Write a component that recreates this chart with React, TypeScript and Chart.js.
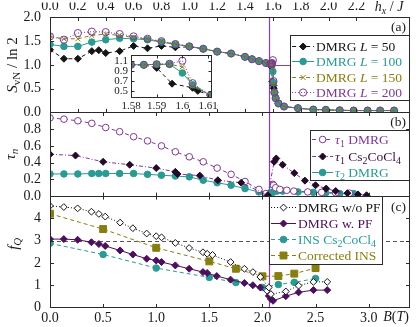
import React, { useEffect, useRef } from 'react';
import { Chart, registerables } from 'chart.js';

Chart.register(...registerables);

const FONT = '"Liberation Serif", "Times New Roman", Times, serif';
const INK = '#1a1a1a';
const FRAME = '#2a2a2a';

// Colours
const C_BLACK = '#151515';
const C_TEAL = '#2b9a93';
const C_OLIVE = '#877e12';
const C_PURPLE = '#7d3a91';
const C_DPURPLE = '#4c0f5e';
const C_DIAM = '#220a28';
const C_CRIT = '#8a3fa6';
const C_GRAY = '#555555';

// ---------- Panel (a): S_vN / ln 2 versus h_x / J ----------
const H_L50 = [0, 0.1, 0.2, 0.3, 0.35, 0.4, 0.5, 0.6, 0.7, 0.8, 0.9, 1.0, 1.1, 1.2, 1.3, 1.4, 1.45, 1.5, 1.55, 1.58, 1.585, 1.59, 1.596, 1.604, 1.606, 1.611, 1.62, 1.64, 1.68, 1.78, 1.89, 1.98, 2.08, 2.18, 2.28, 2.37, 2.47];
const S_L50 = [1.32, 1.13, 1.13, 1.29, 1.31, 1.25, 1.29, 1.40, 1.35, 1.40, 1.37, 1.38, 1.34, 1.28, 1.24, 1.17, 1.12, 1.08, 1.04, 1.02, 1.02, 0.96, 0.65, 0.57, 0.51, 0.42, 0.30, 0.19, 0.125, 0.09, 0.06, 0.055, 0.045, 0.04, 0.04, 0.04, 0.04];

const H_L = [0, 0.1, 0.2, 0.3, 0.4, 0.5, 0.6, 0.7, 0.8, 0.9, 1.0, 1.1, 1.2, 1.3, 1.4, 1.45, 1.5, 1.55, 1.58, 1.585, 1.59, 1.595, 1.6, 1.604, 1.611, 1.62, 1.64, 1.68, 1.78, 1.89, 1.98, 2.08, 2.18, 2.28, 2.37, 2.47];
const S_L100 = [1.43, 1.39, 1.39, 1.48, 1.53, 1.56, 1.55, 1.53, 1.48, 1.43, 1.39, 1.34, 1.28, 1.24, 1.17, 1.12, 1.08, 1.04, 1.02, 1.02, 1.03, 1.03, 0.86, 0.63, 0.42, 0.30, 0.19, 0.125, 0.09, 0.06, 0.055, 0.045, 0.04, 0.04, 0.04, 0.04];
const S_L150 = [1.60, 1.55, 1.55, 1.62, 1.65, 1.62, 1.58, 1.54, 1.49, 1.44, 1.39, 1.34, 1.28, 1.24, 1.17, 1.12, 1.08, 1.04, 1.02, 1.02, 1.03, 1.03, 0.98, 0.60, 0.42, 0.30, 0.19, 0.125, 0.09, 0.06, 0.055, 0.045, 0.04, 0.04, 0.04, 0.04];
const S_L200 = [1.60, 1.53, 1.67, 1.70, 1.69, 1.65, 1.60, 1.55, 1.50, 1.44, 1.39, 1.34, 1.28, 1.24, 1.17, 1.12, 1.08, 1.04, 1.02, 1.02, 1.03, 1.04, 1.10, 0.66, 0.42, 0.30, 0.19, 0.125, 0.09, 0.06, 0.055, 0.045, 0.04, 0.04, 0.04, 0.04];

// ---------- Panel (b): tau_n ----------
const H_T1 = [0, 0.1, 0.2, 0.3, 0.4, 0.5, 0.6, 0.7, 0.8, 0.9, 1.0, 1.1, 1.2, 1.3, 1.4, 1.5, 1.55, 1.6, 1.605, 1.62, 1.65, 1.7, 1.75, 1.85, 1.95, 2.05, 2.15];
const T1_DMRG = [0.935, 0.92, 0.90, 0.87, 0.82, 0.77, 0.71, 0.66, 0.60, 0.53, 0.47, 0.41, 0.335, 0.26, 0.175, 0.08, 0.03, 0.14, 0.13, 0.10, 0.08, 0.07, 0.06, 0.05, 0.045, 0.04, 0.035];
const B_T1 = [0, 0.24, 0.5, 0.75, 1.0, 1.18, 1.2, 1.41, 1.58, 1.8, 2.05, 2.11, 2.13, 2.19, 2.3, 2.4, 2.5, 2.6, 2.69, 2.8, 2.9, 2.98];
const T1_EXP = [0.50, 0.485, 0.41, 0.375, 0.335, 0.29, 0.265, 0.245, 0.19, 0.16, 0.01, 0.41, 0.45, 0.375, 0.275, 0.185, 0.13, 0.09, 0.06, 0.035, 0.02, 0.01];
const H_T2 = [0, 0.1, 0.2, 0.3, 0.35, 0.4, 0.5, 0.6, 0.7, 0.8, 0.9, 1.0, 1.1, 1.2, 1.3, 1.4, 1.5, 1.55, 1.58, 1.6, 1.63, 1.67, 1.78, 1.89, 1.98, 2.08, 2.18];
const T2_DMRG = [0.265, 0.265, 0.265, 0.27, 0.27, 0.27, 0.27, 0.27, 0.26, 0.25, 0.24, 0.23, 0.19, 0.16, 0.13, 0.09, 0.05, 0.01, 0.04, 0.045, 0.06, 0.06, 0.05, 0.045, 0.04, 0.03, 0.03];

// ---------- Panel (c): f_Q versus B (T) ----------
const B_WO = [0, 0.13, 0.26, 0.39, 0.46, 0.52, 0.66, 0.78, 0.91, 1.0, 1.05, 1.18, 1.31, 1.44, 1.48, 1.53, 1.70, 1.83, 1.91, 1.98, 2.06, 2.08, 2.22, 2.34, 2.48, 2.61];
const F_WO = [4.56, 4.51, 4.45, 4.30, 4.20, 4.08, 3.81, 3.56, 3.32, 3.20, 3.15, 2.90, 2.67, 2.48, 2.41, 2.36, 2.04, 1.74, 1.59, 1.37, 0.90, 0.60, 0.72, 0.98, 1.15, 1.15];
const B_W = [0, 0.13, 0.26, 0.39, 0.46, 0.52, 0.66, 0.78, 0.91, 1.0, 1.05, 1.18, 1.31, 1.44, 1.48, 1.57, 1.70, 1.83, 1.91, 1.98, 2.06, 2.08, 2.10, 2.22, 2.34, 2.48, 2.61];
const F_W = [3.07, 3.07, 3.04, 2.93, 2.85, 2.76, 2.56, 2.38, 2.19, 2.11, 2.04, 1.89, 1.74, 1.59, 1.55, 1.41, 1.25, 1.10, 1.00, 0.90, 0.52, 0.38, 0.30, 0.51, 0.68, 0.78, 0.78];
const B_INS = [0, 0.5, 1.0, 1.5, 1.75, 2.0, 2.15, 2.3, 2.5];
const F_INS = [2.88, 2.38, 1.77, 1.35, 1.12, 0.90, 1.03, 1.13, 1.30];
const F_CORR = [4.21, 3.52, 2.68, 2.07, 1.74, 1.40, 1.41, 1.52, 1.77];

// Reference lines
const CRIT_B = 2.065;
const REF_S = 1;
const REF_F = 3;

// Axes
const B_MAX = 3.39;
const B_STEP = 0.5;
const H_MAX = 2.585;
const H_STEP = 0.2;
const H_LAST_LABEL = 2.2;
const INSET_X_TICKS = [1.58, 1.59, 1.6, 1.61];
const INSET_Y_TICKS = [0.5, 0.7, 0.9, 1.1];

type Seg = { t: string; i?: boolean; s?: boolean };
type Style = { line: string; dash: number[]; pt: string; r: number; fill: string; stroke: string };

const ST_L50: Style = { line: C_BLACK, dash: [4, 3], pt: 'rectRot', r: 3.5, fill: C_BLACK, stroke: C_BLACK };
const ST_L100: Style = { line: C_TEAL, dash: [], pt: 'circle', r: 3.3, fill: C_TEAL, stroke: C_TEAL };
const ST_L150: Style = { line: C_OLIVE, dash: [4, 3], pt: 'crossRot', r: 3.5, fill: C_OLIVE, stroke: C_OLIVE };
const ST_L200: Style = { line: C_PURPLE, dash: [1, 2], pt: 'circle', r: 3.6, fill: 'rgba(0,0,0,0)', stroke: C_PURPLE };
const ST_T1: Style = { line: C_PURPLE, dash: [4, 3], pt: 'circle', r: 3.3, fill: '#ffffff', stroke: C_PURPLE };
const ST_T1X: Style = { line: C_PURPLE, dash: [4, 2, 1, 2], pt: 'rectRot', r: 3.5, fill: C_DIAM, stroke: C_DIAM };
const ST_T2: Style = { line: C_TEAL, dash: [], pt: 'circle', r: 3.3, fill: C_TEAL, stroke: C_TEAL };
const ST_WO: Style = { line: C_BLACK, dash: [1, 2], pt: 'rectRot', r: 3.4, fill: '#ffffff', stroke: C_BLACK };
const ST_W: Style = { line: C_DPURPLE, dash: [], pt: 'rectRot', r: 3.5, fill: C_DPURPLE, stroke: C_DPURPLE };
const ST_INS: Style = { line: C_TEAL, dash: [4, 3], pt: 'circle', r: 3.3, fill: C_TEAL, stroke: C_TEAL };
const ST_CORR: Style = { line: C_OLIVE, dash: [4, 3], pt: 'rect', r: 4.9, fill: C_OLIVE, stroke: C_OLIVE };

function ds(label: string, xs: number[], ys: number[], st: Style, xAxisID: string, yAxisID: string) {
  return {
    label,
    data: xs.map((x, i) => ({ x, y: ys[i] })),
    xAxisID,
    yAxisID,
    borderColor: st.line,
    borderWidth: 1,
    borderDash: st.dash,
    pointStyle: st.pt,
    pointRadius: st.r,
    pointBackgroundColor: st.fill,
    pointBorderColor: st.stroke,
    pointBorderWidth: 1,
    tension: 0,
    fill: false,
  };
}

function drawRich(ctx: CanvasRenderingContext2D, segs: Seg[], x: number, y: number, size: number, color: string, align = 'left') {
  const fontOf = (sg: Seg) => `${sg.i ? 'italic ' : ''}${sg.s ? Math.round(size * 0.72) : size}px ${FONT}`;
  let w = 0;
  for (const sg of segs) { ctx.font = fontOf(sg); w += ctx.measureText(sg.t).width; }
  let cx = align === 'left' ? x : align === 'center' ? x - w / 2 : x - w;
  const base = y + size * 0.33;
  ctx.save();
  ctx.fillStyle = color;
  ctx.textAlign = 'left';
  ctx.textBaseline = 'alphabetic';
  for (const sg of segs) {
    ctx.font = fontOf(sg);
    ctx.fillText(sg.t, cx, sg.s ? base + size * 0.22 : base);
    cx += ctx.measureText(sg.t).width;
  }
  ctx.restore();
}

function drawMarker(ctx: CanvasRenderingContext2D, st: Style, x: number, y: number) {
  ctx.save();
  ctx.setLineDash([]);
  ctx.lineWidth = 1;
  ctx.fillStyle = st.fill;
  ctx.strokeStyle = st.stroke;
  ctx.beginPath();
  const r = st.r;
  if (st.pt === 'circle') ctx.arc(x, y, r, 0, Math.PI * 2);
  else if (st.pt === 'rectRot') { ctx.moveTo(x, y - r); ctx.lineTo(x + r, y); ctx.lineTo(x, y + r); ctx.lineTo(x - r, y); ctx.closePath(); }
  else if (st.pt === 'rect') { const s = r * Math.SQRT1_2; ctx.rect(x - s, y - s, 2 * s, 2 * s); }
  else { const d = r * Math.SQRT1_2; ctx.moveTo(x - d, y - d); ctx.lineTo(x + d, y + d); ctx.moveTo(x + d, y - d); ctx.lineTo(x - d, y + d); }
  if (st.pt !== 'crossRot') ctx.fill();
  ctx.stroke();
  ctx.restore();
}

type Entry = { st: Style; segs: Seg[]; color: string };

function drawLegend(ctx: CanvasRenderingContext2D, l: number, t: number, r: number, b: number, row0: number, gap: number, lx0: number, lx1: number, tx: number, entries: Entry[]) {
  ctx.save();
  ctx.fillStyle = '#ffffff';
  ctx.fillRect(l, t, r - l, b - t);
  ctx.strokeStyle = FRAME;
  ctx.lineWidth = 1;
  ctx.strokeRect(Math.round(l) + 0.5, Math.round(t) + 0.5, Math.round(r - l) - 1, Math.round(b - t));
  entries.forEach((e, i) => {
    const y = Math.round(row0 + i * gap) + 0.5;
    ctx.strokeStyle = e.st.line;
    ctx.setLineDash(e.st.dash);
    ctx.beginPath(); ctx.moveTo(lx0, y); ctx.lineTo(lx1, y); ctx.stroke();
    drawMarker(ctx, e.st, (lx0 + lx1) / 2, y);
    drawRich(ctx, e.segs, tx, y, 13.5, e.color, 'left');
  });
  ctx.restore();
}

const LEG_A: Entry[] = [
  { st: ST_L50, segs: [{ t: 'DMRG ' }, { t: 'L', i: true }, { t: ' = 50' }], color: C_BLACK },
  { st: ST_L100, segs: [{ t: 'DMRG ' }, { t: 'L', i: true }, { t: ' = 100' }], color: C_TEAL },
  { st: ST_L150, segs: [{ t: 'DMRG ' }, { t: 'L', i: true }, { t: ' = 150' }], color: C_OLIVE },
  { st: ST_L200, segs: [{ t: 'DMRG ' }, { t: 'L', i: true }, { t: ' = 200' }], color: C_PURPLE },
];
const LEG_B: Entry[] = [
  { st: ST_T1, segs: [{ t: 'τ', i: true }, { t: '1', s: true }, { t: ' DMRG' }], color: C_PURPLE },
  { st: ST_T1X, segs: [{ t: 'τ', i: true }, { t: '1', s: true }, { t: ' Cs' }, { t: '2', s: true }, { t: 'CoCl' }, { t: '4', s: true }], color: '#3a1046' },
  { st: ST_T2, segs: [{ t: 'τ', i: true }, { t: '2', s: true }, { t: ' DMRG' }], color: C_TEAL },
];
const LEG_C: Entry[] = [
  { st: ST_WO, segs: [{ t: 'DMRG w/o PF' }], color: C_BLACK },
  { st: ST_W, segs: [{ t: 'DMRG w. PF' }], color: C_DPURPLE },
  { st: ST_INS, segs: [{ t: 'INS Cs' }, { t: '2', s: true }, { t: 'CoCl' }, { t: '4', s: true }], color: C_TEAL },
  { st: ST_CORR, segs: [{ t: 'Corrected INS' }], color: C_OLIVE },
];

function hLine(ctx: CanvasRenderingContext2D, x0: number, x1: number, y: number) {
  const yy = Math.round(y) + 0.5;
  ctx.beginPath(); ctx.moveTo(x0, yy); ctx.lineTo(x1, yy); ctx.stroke();
}

const decorPlugin = {
  id: 'decor',
  beforeDatasetsDraw(chart: any) {
    const { ctx, chartArea: a, scales } = chart;
    const cx = Math.round(scales.x.getPixelForValue(CRIT_B)) + 0.5;
    ctx.save();
    ctx.lineWidth = 1.2;
    ctx.strokeStyle = C_CRIT;
    ctx.beginPath(); ctx.moveTo(cx, a.top); ctx.lineTo(cx, a.bottom); ctx.stroke();
    hLine(ctx, cx, a.right, scales.ya.getPixelForValue(REF_S));
    ctx.lineWidth = 1;
    ctx.strokeStyle = C_GRAY;
    ctx.setLineDash([4, 3]);
    hLine(ctx, a.left, a.right, scales.yc.getPixelForValue(REF_F));
    ctx.restore();
  },
  afterDatasetsDraw(chart: any) {
    const { ctx, chartArea: a, scales } = chart;
    const { x: xB, xTop, ya, yb, yc } = scales;
    const L = Math.round(a.left) + 0.5;
    const R = Math.round(a.right) - 0.5;
    ctx.save();
    ctx.strokeStyle = FRAME;
    ctx.lineWidth = 1;
    ctx.setLineDash([]);
    // inward ticks
    const TL = 3.5;
    const panels = [
      { y: ya, xs: xTop },
      { y: yb, xs: xB },
      { y: yc, xs: xB },
    ];
    ctx.beginPath();
    for (const p of panels) {
      for (const tk of p.xs.ticks) {
        const px = Math.round(p.xs.getPixelForValue(tk.value)) + 0.5;
        if (px <= a.left + 1 || px >= a.right - 1) continue;
        ctx.moveTo(px, p.y.top); ctx.lineTo(px, p.y.top + TL);
        ctx.moveTo(px, p.y.bottom); ctx.lineTo(px, p.y.bottom - TL);
      }
      for (const tk of p.y.ticks) {
        const py = Math.round(p.y.getPixelForValue(tk.value)) + 0.5;
        if (py <= p.y.top + 1 || py >= p.y.bottom - 1) continue;
        ctx.moveTo(L, py); ctx.lineTo(L + TL, py);
        ctx.moveTo(R, py); ctx.lineTo(R - TL, py);
      }
    }
    ctx.stroke();
    // frame + separators
    ctx.strokeRect(L, Math.round(a.top) + 0.5, R - L, Math.round(a.bottom) - Math.round(a.top) - 1);
    hLine(ctx, a.left, a.right, ya.bottom);
    hLine(ctx, a.left, a.right, yb.bottom);

    // legends
    const cx = xB.getPixelForValue(CRIT_B);
    const la = a.right - 120, ta = ya.top + 18;
    drawLegend(ctx, la, ta, a.right, ta + 65, ta + 10.3, 15.5, la + 2, la + 24, la + 26, LEG_A);
    const lb = a.right - 100, tb = yb.top + 18;
    drawLegend(ctx, lb, tb, a.right, tb + 50, tb + 8.6, 16.7, lb + 2, lb + 23, lb + 25, LEG_B);
    const lc = Math.round(cx), tc = yc.top;
    drawLegend(ctx, lc, tc, lc + 114, tc + 68, tc + 10.5, 16, lc + 2, lc + 27, lc + 29, LEG_C);

    // panel labels
    drawRich(ctx, [{ t: '(a)' }], a.right - 4, ya.top + 9, 13.5, INK, 'right');
    drawRich(ctx, [{ t: '(b)' }], a.right - 4, yb.top + 9.5, 13.5, INK, 'right');
    drawRich(ctx, [{ t: '(c)' }], a.right - 4, yc.top + 10.5, 13.5, INK, 'right');

    // axis titles
    drawRich(ctx, [{ t: 'h', i: true }, { t: 'x', i: true, s: true }, { t: ' / ' }, { t: 'J', i: true }], a.right - 21, 6.5, 14, INK, 'center');
    drawRich(ctx, [{ t: 'B', i: true }, { t: '(' }, { t: 'T', i: true }, { t: ')' }], a.right - 14, 316, 14, INK, 'center');
    const vt = (segs: Seg[], x: number, y: number) => {
      ctx.save(); ctx.translate(x, y); ctx.rotate(-Math.PI / 2);
      drawRich(ctx, segs, 0, 0, 15, INK, 'center');
      ctx.restore();
    };
    vt([{ t: 'S', i: true }, { t: 'vN', s: true }, { t: ' / ' }, { t: 'ln 2' }], 12, (ya.top + ya.bottom) / 2);
    vt([{ t: 'τ', i: true }, { t: 'n', i: true, s: true }], 10, (yb.top + yb.bottom) / 2);
    vt([{ t: 'f', i: true }, { t: 'Q', i: true, s: true }], 13, (yc.top + yc.bottom) / 2 - 8);
    ctx.restore();
  },
};

const insetPlugin = {
  id: 'insetFrame',
  beforeDatasetsDraw(chart: any) {
    const { ctx, chartArea: a } = chart;
    ctx.save();
    ctx.fillStyle = '#ffffff';
    ctx.fillRect(a.left, a.top, a.right - a.left, a.bottom - a.top);
    ctx.restore();
  },
  afterDatasetsDraw(chart: any) {
    const { ctx, chartArea: a, scales } = chart;
    ctx.save();
    ctx.strokeStyle = FRAME;
    ctx.lineWidth = 1;
    const L = Math.round(a.left) + 0.5, T = Math.round(a.top) + 0.5;
    const R = Math.round(a.right) - 0.5, B = Math.round(a.bottom) - 0.5;
    ctx.strokeRect(L, T, R - L, B - T);
    ctx.beginPath();
    for (const tk of scales.x.ticks) {
      const px = Math.round(scales.x.getPixelForValue(tk.value)) + 0.5;
      if (px <= L + 1 || px >= R - 1) continue;
      ctx.moveTo(px, B); ctx.lineTo(px, B - 3);
      ctx.moveTo(px, T); ctx.lineTo(px, T + 3);
    }
    for (const tk of scales.y.ticks) {
      const py = Math.round(scales.y.getPixelForValue(tk.value)) + 0.5;
      ctx.moveTo(L, py); ctx.lineTo(L + 3, py);
      ctx.moveTo(R, py); ctx.lineTo(R - 3, py);
    }
    ctx.stroke();
    ctx.restore();
  },
};

const tickFont = { family: FONT, size: 14 };
const noGrid = { display: false, drawTicks: false };

function yScale(min: number, max: number, step: number, weight: number, cb: (v: number) => string | null) {
  return {
    type: 'linear',
    position: 'left',
    stack: 'panels',
    stackWeight: weight,
    min,
    max,
    afterFit: (s: any) => { s.width = 50; },
    grid: noGrid,
    border: { display: false },
    ticks: { stepSize: step, autoSkip: false, padding: 9, font: tickFont, color: INK, callback: (v: any) => cb(Number(v)) },
  };
}

function mainConfig(): any {
  return {
    type: 'line',
    data: {
      datasets: [
        ds('DMRG L = 200', H_L, S_L200, ST_L200, 'xTop', 'ya'),
        ds('DMRG L = 150', H_L, S_L150, ST_L150, 'xTop', 'ya'),
        ds('DMRG L = 100', H_L, S_L100, ST_L100, 'xTop', 'ya'),
        ds('DMRG L = 50', H_L50, S_L50, ST_L50, 'xTop', 'ya'),
        ds('τ1 Cs2CoCl4', B_T1, T1_EXP, ST_T1X, 'x', 'yb'),
        ds('τ1 DMRG', H_T1, T1_DMRG, ST_T1, 'xTop', 'yb'),
        ds('τ2 DMRG', H_T2, T2_DMRG, ST_T2, 'xTop', 'yb'),
        ds('DMRG w/o PF', B_WO, F_WO, ST_WO, 'x', 'yc'),
        ds('DMRG w. PF', B_W, F_W, ST_W, 'x', 'yc'),
        ds('INS Cs2CoCl4', B_INS, F_INS, ST_INS, 'x', 'yc'),
        ds('Corrected INS', B_INS, F_CORR, ST_CORR, 'x', 'yc'),
      ],
    },
    options: {
      responsive: false,
      animation: false,
      devicePixelRatio: 1,
      layout: { padding: { left: 0, right: 4, top: 0, bottom: 0 } },
      plugins: { legend: { display: false }, tooltip: { enabled: false } },
      scales: {
        x: {
          type: 'linear', position: 'bottom', min: 0, max: B_MAX,
          afterFit: (s: any) => { s.height = 19.5; },
          grid: noGrid, border: { display: false },
          ticks: { stepSize: B_STEP, includeBounds: false, autoSkip: false, maxRotation: 0, padding: 2, font: tickFont, color: INK, callback: (v: any) => Number(v).toFixed(1) },
        },
        xTop: {
          type: 'linear', position: 'top', min: 0, max: H_MAX,
          afterFit: (s: any) => { s.height = 15; },
          grid: noGrid, border: { display: false },
          ticks: { stepSize: H_STEP, includeBounds: false, autoSkip: false, maxRotation: 0, padding: 3, font: tickFont, color: INK, callback: (v: any) => (Number(v) > H_LAST_LABEL + 0.05 ? null : Number(v).toFixed(1)) },
        },
        yc: yScale(0, 5, 1, 112.5, (v) => (v > 4.5 ? null : String(v))),
        yb: yScale(0, 1, 0.2, 84.5, (v) => (v > 0.95 ? null : v.toFixed(1))),
        ya: yScale(0, 2, 0.5, 96, (v) => v.toFixed(1)),
      },
    },
    plugins: [decorPlugin],
  };
}

function insetConfig(): any {
  const f = { family: FONT, size: 11 };
  return {
    type: 'line',
    data: {
      datasets: [
        ds('L200', H_L, S_L200, ST_L200, 'x', 'y'),
        ds('L150', H_L, S_L150, ST_L150, 'x', 'y'),
        ds('L100', H_L, S_L100, ST_L100, 'x', 'y'),
        ds('L50', H_L50, S_L50, ST_L50, 'x', 'y'),
      ],
    },
    options: {
      responsive: false,
      animation: false,
      devicePixelRatio: 1,
      layout: { padding: { left: 0, right: 7, top: 9, bottom: 0 } },
      plugins: { legend: { display: false }, tooltip: { enabled: false } },
      scales: {
        x: {
          type: 'linear', min: 1.58, max: 1.6115,
          afterBuildTicks: (s: any) => { s.ticks = INSET_X_TICKS.map((v) => ({ value: v })); },
          afterFit: (s: any) => { s.height = 17; },
          grid: noGrid, border: { display: false },
          ticks: { autoSkip: false, maxRotation: 0, padding: 2, font: f, color: INK, callback: (v: any) => String(Math.round(Number(v) * 100) / 100) },
        },
        y: {
          type: 'linear', min: 0.37, max: 1.22,
          afterBuildTicks: (s: any) => { s.ticks = INSET_Y_TICKS.map((v) => ({ value: v })); },
          afterFit: (s: any) => { s.width = 31; },
          grid: noGrid, border: { display: false },
          ticks: { autoSkip: false, padding: 3, font: f, color: INK, callback: (v: any) => Number(v).toFixed(1) },
        },
      },
    },
    plugins: [insetPlugin],
  };
}

export default function App() {
  const mainRef = useRef<HTMLCanvasElement>(null);
  const insetRef = useRef<HTMLCanvasElement>(null);
  useEffect(() => {
    const main = new Chart(mainRef.current as HTMLCanvasElement, mainConfig());
    const inset = new Chart(insetRef.current as HTMLCanvasElement, insetConfig());
    return () => { main.destroy(); inset.destroy(); };
  }, []);
  return (
    <div style={{ position: 'absolute', left: 0, top: 0, width: 416, height: 327, background: '#fff' }}>
      <canvas ref={mainRef} width={416} height={327} style={{ position: 'absolute', left: 0, top: 0, width: 416, height: 327 }} />
      <canvas ref={insetRef} width={120} height={70} style={{ position: 'absolute', left: 100, top: 45, width: 120, height: 70 }} />
    </div>
  );
}
